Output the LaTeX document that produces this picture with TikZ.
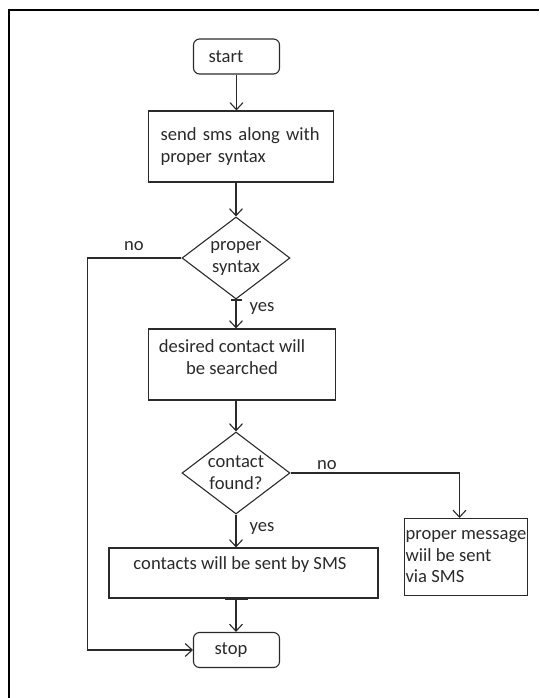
\documentclass[tikz,border=0pt]{standalone}
\usepackage{fontspec}
\setmainfont{Carlito}
\usetikzlibrary{arrows.meta,shapes.geometric}
\definecolor{ink}{HTML}{2A2A2A}
\tikzset{
  base/.style={font=\fontsize{18.6}{22}\selectfont, text=ink},
  term/.style={base, draw=ink, line width=1.1pt, rounded corners=6pt, minimum width=86pt, minimum height=35pt, inner sep=0pt},
  procbox/.style={base, draw=ink, line width=1.1pt, rectangle, inner sep=0pt},
  decide/.style={base, draw=ink, line width=1.1pt, diamond, aspect=1.3, minimum width=108pt, minimum height=82pt, inner sep=0pt, align=center},
  arr/.style={draw=ink, line width=1.1pt, -{Straight Barb[length=7pt,width=13pt]}},
  conn/.style={draw=ink, line width=1.1pt},
  tick/.style={draw=ink, line width=2pt},
  lbl/.style={base}
}
\begin{document}
\begin{tikzpicture}[x=1pt,y=-1pt]
\useasboundingbox (0,0) rectangle (539,698);
% frame
\draw[line width=2pt, black] (8.6,698) -- (8.6,9.6) -- (539,9.6);

\node[term] (st) at (236.5,56.5) {start\hspace*{21pt}};
\node[procbox, minimum width=185pt, minimum height=71pt, text width=161pt, inner xsep=12pt, align=left] (b1) at (241,146.5) {send sms along with\\proper syntax};
\node[decide] (d1) at (236,258) {proper\\syntax};
\node[procbox, minimum width=187.5pt, minimum height=71pt,
  label={[name=b2t, base, align=center, xshift=-10pt, yshift=7.5pt]center:desired contact will\\be searched}] (b2) at (242,364.5) {};
\node[decide] (d2) at (236,473) {contact\\found?};
\node[procbox, minimum height=77pt, minimum width=122pt, inner xsep=1pt, align=left, font=\fontsize{18.6}{21.5}\selectfont] (b3) at (466,557) {proper message\\wiil be sent\\via SMS\hspace*{60pt}};
\node[procbox, minimum width=269pt, minimum height=50pt,
  label={[name=b4t, base, xshift=-3.5pt, yshift=8pt]center:contacts will be sent by SMS}] (b4) at (243.5,573) {};
\node[term] (sp) at (236.5,650) {stop\hspace*{11pt}};

\coordinate (cl) at (87.7,0);
\coordinate (cr) at (459.5,0);
\coordinate (t1) at (d1.south);
\coordinate (t4) at (d2.south |- b4.south);

\draw[arr] (st.south) -- (st.south |- b1.north);
\draw[arr] (d1.north |- b1.south) -- (d1.north);
\draw[arr] (d1.south) -- (d1.south |- b2.north);
\draw[arr] (d2.north |- b2.south) -- (d2.north);
\draw[arr] (d2.south) -- (d2.south |- b4.north);
\draw[arr] (t4) -- (t4 |- sp.north);
\draw[arr] (d1.west) -- (d1.west -| cl) -- (cl |- sp.west) -- (sp.west);
\draw[arr] (d2.east) -- (d2.east -| cr) -- (cr |- b3.north);

\draw[tick] ([xshift=-5pt]t1) -- ([xshift=6pt]t1);
\draw[tick] ([xshift=-11pt]t4) -- ([xshift=12pt]t4);

\node[lbl] (no1) at (134,246) {no};
\node[lbl] (yes1) at (262,308) {yes};
\node[lbl] (no2) at (327,465) {no};
\node[lbl] (yes2) at (262,528) {yes};
\end{tikzpicture}
\end{document}
